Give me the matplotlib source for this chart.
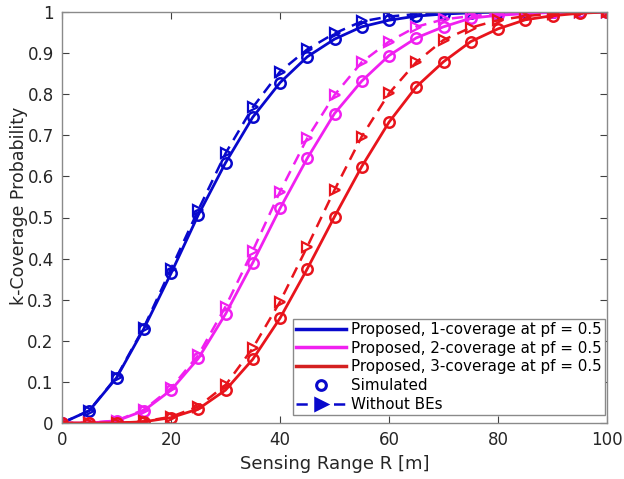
import matplotlib
matplotlib.use("Agg")
import matplotlib.pyplot as plt
from matplotlib.lines import Line2D

# Sensing range samples [m]
sensing_range = list(range(0, 101, 5))

# Proposed model, k-coverage probability at pf = 0.5
proposed_k1 = [0.0, 0.03, 0.11, 0.229, 0.364, 0.506, 0.633, 0.744, 0.828, 0.891, 0.934,
               0.964, 0.980, 0.990, 0.995, 0.998, 1.0, 1.0, 1.0, 1.0, 1.0]
proposed_k2 = [0.0, 0.0, 0.005, 0.03, 0.080, 0.157, 0.265, 0.390, 0.522, 0.644, 0.753,
               0.832, 0.894, 0.937, 0.964, 0.985, 0.992, 0.996, 0.999, 1.0, 1.0]
proposed_k3 = [0.0, 0.0, 0.0, 0.003, 0.013, 0.034, 0.080, 0.155, 0.255, 0.375, 0.502,
               0.624, 0.732, 0.818, 0.879, 0.928, 0.959, 0.981, 0.991, 0.997, 1.0]

# Model without boundary effects
no_be_k1 = [0.0, 0.03, 0.112, 0.232, 0.375, 0.518, 0.656, 0.768, 0.855, 0.909, 0.948,
            0.977, 0.989, 0.995, 0.998, 1.0, 1.0, 1.0, 1.0, 1.0, 1.0]
no_be_k2 = [0.0, 0.0, 0.006, 0.032, 0.085, 0.165, 0.283, 0.419, 0.563, 0.693, 0.798,
            0.878, 0.928, 0.964, 0.982, 0.990, 0.996, 0.998, 1.0, 1.0, 1.0]
no_be_k3 = [0.0, 0.0, 0.0, 0.004, 0.015, 0.040, 0.092, 0.182, 0.295, 0.429, 0.567,
            0.697, 0.802, 0.878, 0.932, 0.962, 0.980, 0.990, 0.996, 0.999, 1.0]

legend_labels = ["Proposed, 1-coverage at pf = 0.5",
                 "Proposed, 2-coverage at pf = 0.5",
                 "Proposed, 3-coverage at pf = 0.5",
                 "Simulated",
                 "Without BEs"]

x_ticks = [0, 20, 40, 60, 80, 100]
y_ticks = [0, 0.1, 0.2, 0.3, 0.4, 0.5, 0.6, 0.7, 0.8, 0.9, 1]
y_tick_labels = ["0", "0.1", "0.2", "0.3", "0.4", "0.5", "0.6", "0.7", "0.8", "0.9", "1"]

colors = ["#0808cc", "#f020f0", "#e8141c"]
axis_gray = "#404040"

plt.rcParams["font.family"] = ["DejaVu Sans"]

fig = plt.figure(figsize=(6.24, 4.79), dpi=100)
ax = fig.add_axes([62 / 624, 1 - 423 / 479, (607 - 62) / 624, (423 - 12) / 479])

series = [(proposed_k1, no_be_k1), (proposed_k2, no_be_k2), (proposed_k3, no_be_k3)]
for (prop, nobe), c in zip(series, colors):
    ax.plot(sensing_range, nobe, linestyle=(0, (4.5, 3)), color=c, lw=1.8,
            marker=">", markersize=7.5, markerfacecolor="none", markeredgewidth=1.6)
    ax.plot(sensing_range, prop, linestyle="-", color=c, lw=2.0,
            marker="o", markersize=7.5, markerfacecolor="none", markeredgewidth=1.8)

ax.set_xlim(0, 100)
ax.set_ylim(0, 1)
ax.set_xticks(x_ticks)
ax.set_yticks(y_ticks)
ax.set_yticklabels(y_tick_labels)
ax.tick_params(direction="in", top=True, right=True, length=5, width=0.8,
               colors=axis_gray, labelsize=12, labelcolor="#262626", pad=6)
for sp in ax.spines.values():
    sp.set_color("#8a8a8a")
    sp.set_linewidth(1.0)

ax.set_xlabel("Sensing Range R [m]", fontsize=13, color="#262626", labelpad=4)
ax.set_ylabel("k-Coverage Probability", fontsize=12.5, color="#262626")
ax.yaxis.set_label_coords(-0.062, 0.528)

handles = [
    Line2D([], [], color=colors[0], lw=2.5),
    Line2D([], [], color=colors[1], lw=2.5),
    Line2D([], [], color="#d42020", lw=2.5),
    Line2D([], [], color=colors[0], lw=0, marker="o", markersize=7,
           markerfacecolor="none", markeredgewidth=2.2),
    Line2D([], [], color=colors[0], lw=1.8, linestyle=(0, (4.5, 3)), marker=">",
           markersize=8, markeredgewidth=1.8),
]
leg = ax.legend(handles, legend_labels, loc="lower right",
                bbox_to_anchor=(0.9963, 0.0195), fontsize=10.9,
                handlelength=3.3, handletextpad=0.33, labelspacing=0.25,
                borderpad=0.2, borderaxespad=0.0, fancybox=False, framealpha=1,
                edgecolor="#8a8a8a")
leg.get_frame().set_linewidth(1.0)

fig.savefig("out.png", dpi=100)
